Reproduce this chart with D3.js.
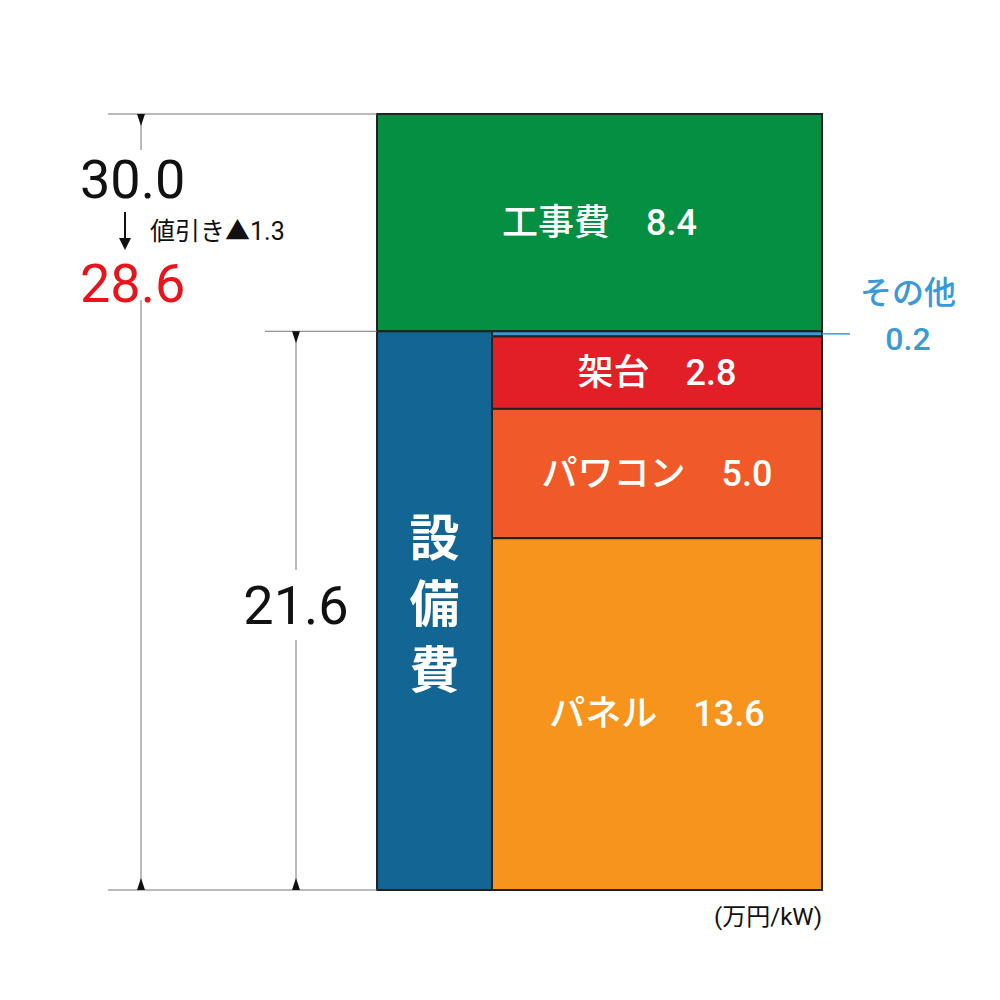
<!DOCTYPE html>
<html><head><meta charset="utf-8">
<script src="https://cdn.jsdelivr.net/npm/d3@7"></script>
<style>body{margin:0;background:#fff}</style></head>
<body><svg id="c" width="1000" height="1000"></svg>
<script>
const workLabel = "工事費", workValue = 8.4;
const equipLabel = "設備費", equipTotal = 21.6;
const equipItems = ["その他","架台","パワコン","パネル"];
const equipValues = [0.2, 2.8, 5.0, 13.6];
const equipColors = ["#3a9ad9","#e21f26","#ef5a28","#f7941e"];
const totalLabel = "30.0", discountLabel = "値引き▲1.3", netLabel = "28.6";
const unitLabel = "(万円/kW)";

const svg = d3.select("#c");
const F = "Roboto,'Noto Sans CJK JP',sans-serif";
const y = d3.scaleLinear().domain([0, 30]).range([890, 114]);
const x0 = 377, xMid = 492, x1 = 822;

svg.append("rect").attr("x",x0).attr("y",y(equipTotal+workValue)).attr("width",x1-x0)
  .attr("height",y(equipTotal)-y(equipTotal+workValue)).attr("fill","#058f43").attr("stroke","#222").attr("stroke-width",2);
svg.append("text").attr("x",(x0+x1)/2).attr("y",(y(equipTotal)+y(30))/2+12).attr("text-anchor","middle")
  .attr("fill","#fff").attr("font-family",F).attr("font-size",36).attr("font-weight",500).text(workLabel+"　"+workValue.toFixed(1));
svg.append("rect").attr("x",x0).attr("y",y(equipTotal)).attr("width",xMid-x0).attr("height",y(0)-y(equipTotal))
  .attr("fill","#136594").attr("stroke","#222").attr("stroke-width",2);
equipLabel.split("").forEach((ch,i)=>svg.append("text").attr("x",(x0+xMid)/2).attr("y",556+i*66).attr("text-anchor","middle")
  .attr("fill","#fff").attr("font-family",F).attr("font-size",50).attr("font-weight",700).text(ch));
let cum = equipTotal;
equipItems.forEach((name,i)=>{
  const top=y(cum), bot=y(cum-equipValues[i]); cum-=equipValues[i];
  svg.append("rect").attr("x",xMid).attr("y",top).attr("width",x1-xMid).attr("height",bot-top)
    .attr("fill",equipColors[i]).attr("stroke","#222").attr("stroke-width",2);
  if(i>0) svg.append("text").attr("x",(xMid+x1)/2).attr("y",(top+bot)/2+12).attr("text-anchor","middle")
    .attr("fill","#fff").attr("font-family",F).attr("font-size",36).attr("font-weight",500).text(name+"　"+equipValues[i].toFixed(1));
  else {
    const ym=(top+bot)/2;
    svg.append("line").attr("x1",x1).attr("x2",850).attr("y1",ym).attr("y2",ym).attr("stroke",equipColors[0]).attr("stroke-width",1.5);
    svg.append("text").attr("x",908).attr("y",304).attr("text-anchor","middle").attr("fill",equipColors[0]).attr("font-family",F).attr("font-size",32).attr("font-weight",500).text(name);
    svg.append("text").attr("x",908).attr("y",350).attr("text-anchor","middle").attr("fill",equipColors[0]).attr("font-family",F).attr("font-size",32).attr("font-weight",500).text(equipValues[0].toFixed(1));
  }
});
const g="#777";
[[108,y(30)],[265,y(equipTotal)],[108,y(0)]].forEach(([xa,yy])=>svg.append("line").attr("x1",xa).attr("x2",x0).attr("y1",yy).attr("y2",yy).attr("stroke",g));
function dim(xx,ya,yb){
  svg.append("line").attr("x1",xx).attr("x2",xx).attr("y1",ya).attr("y2",yb).attr("stroke",g);
  svg.append("path").attr("d",`M${xx-4},${ya}L${xx+4},${ya}L${xx},${ya+12}Z`).attr("fill","#111");
  svg.append("path").attr("d",`M${xx-4},${yb}L${xx+4},${yb}L${xx},${yb-12}Z`).attr("fill","#111");
}
dim(141,y(30),y(0)); dim(296,y(equipTotal),y(0));
svg.append("rect").attr("x",70).attr("y",150).attr("width",140).attr("height",150).attr("fill","#fff");
svg.append("rect").attr("x",230).attr("y",570).attr("width",130).attr("height",70).attr("fill","#fff");
svg.append("text").attr("x",80).attr("y",198).attr("font-family",F).attr("font-size",54).attr("fill","#111").text(totalLabel);
svg.append("text").attr("x",80).attr("y",302).attr("font-family",F).attr("font-size",54).attr("fill","#e8131b").text(netLabel);
svg.append("line").attr("x1",125).attr("x2",125).attr("y1",212).attr("y2",246).attr("stroke","#111").attr("stroke-width",2);
svg.append("path").attr("d","M119,238L131,238L125,250Z").attr("fill","#111");
svg.append("text").attr("x",150).attr("y",240).attr("font-family",F).attr("font-size",25).attr("fill","#111").text(discountLabel);
svg.append("text").attr("x",296).attr("y",624).attr("text-anchor","middle").attr("font-family",F).attr("font-size",54).attr("fill","#111").text(equipTotal.toFixed(1));
svg.append("text").attr("x",822).attr("y",925).attr("text-anchor","end").attr("font-family",F).attr("font-size",24).attr("fill","#111").text(unitLabel);
</script></body></html>
